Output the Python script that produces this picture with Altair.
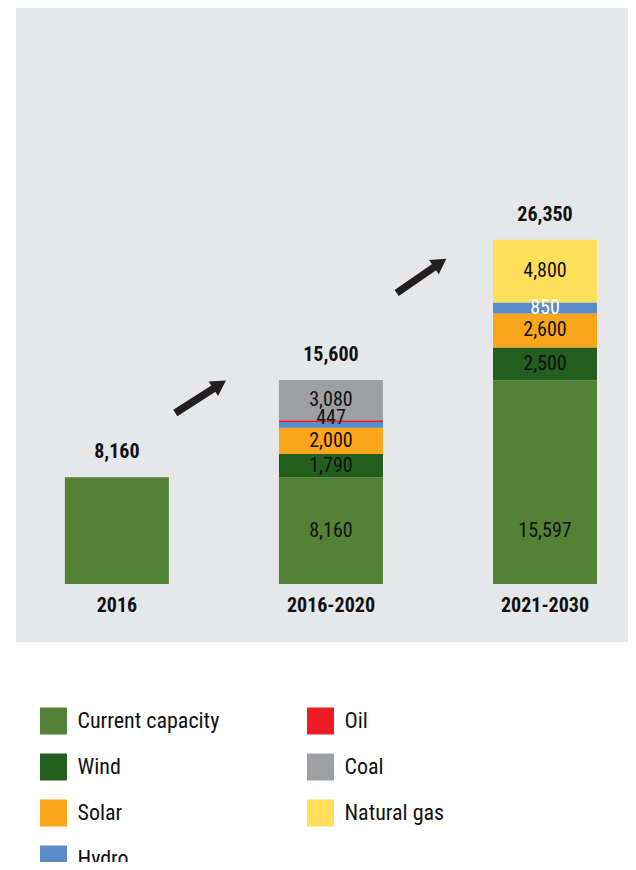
import altair as alt
import pandas as pd

# ---------------- data ----------------
categories = ["2016", "2016-2020", "2021-2030"]
positions = [0, 1, 2]
sources = ["Current capacity", "Wind", "Solar", "Hydro", "Oil", "Coal", "Natural gas"]
colors = ["#538135", "#245e1f", "#f9a61b", "#5b8bc8", "#ed1c24", "#9d9fa2", "#ffde59"]
values_2016 = [8160, 0, 0, 0, 0, 0, 0]
values_2016_2020 = [8160, 1790, 2000, 447, 123, 3080, 0]
values_2021_2030 = [15597, 2500, 2600, 850, 0, 0, 4800]
labels_2016 = ["", "", "", "", "", "", ""]
labels_2016_2020 = ["8,160", "1,790", "2,000", "447", "", "3,080", ""]
labels_2021_2030 = ["15,597", "2,500", "2,600", "850", "", "", "4,800"]
totals = [8160, 15600, 26350]
total_labels = ["8,160", "15,600", "26,350"]

# growth arrows (from -> to, in chart data units)
arrow_from_pos = [0.273, 1.307]
arrow_from_val = [13083, 22264]
arrow_to_pos = [0.480, 1.510]
arrow_to_val = [15249, 24560]
arrow_angle = [57, 56]

# legend grid
legend_col = [0, 0, 0, 0, 1, 1, 1]
legend_row = [0, 1, 2, 3, 0, 1, 2]

FONT = "Roboto Condensed, Liberation Sans Narrow, Arial Narrow, DejaVu Sans Condensed, sans-serif"
BG = "#e6e7e8"

# ---------------- tables ----------------
base_capacity = values_2016[0]
rows = []
for cat, pos, vals, labs in zip(categories, positions,
                                [values_2016, values_2016_2020, values_2021_2030],
                                [labels_2016, labels_2016_2020, labels_2021_2030]):
    base = 0
    for i, (s, v, l) in enumerate(zip(sources, vals, labs)):
        if v == 0:
            continue
        mid = base + v / 2
        # existing-capacity labels sit level with the middle of the 2016 capacity
        anchor = base_capacity / 2 if s == "Current capacity" else mid
        rows.append(dict(category=cat, pos=pos, source=s, order=i,
                         start=base, end=base + v, mid=anchor, label=l))
        base += v
seg = pd.DataFrame(rows)

tot = pd.DataFrame(dict(category=categories, pos=positions, total=totals,
                        total_label=total_labels, zero=[0, 0, 0]))
arr = pd.DataFrame(dict(x1=arrow_from_pos, y1=arrow_from_val,
                        x2=arrow_to_pos, y2=arrow_to_val, angle=arrow_angle))
leg = pd.DataFrame(dict(source=sources, col=legend_col, row=legend_row))

xs = alt.Scale(domain=[-0.4481, 2.3644], zero=False, nice=False)
ys = alt.Scale(domain=[-4438, 44070], zero=False, nice=False)
cs = alt.Scale(domain=sources, range=colors)

X = alt.X("pos:Q", scale=xs, axis=None)

bars = alt.Chart(seg).mark_bar(size=104).encode(
    x=X,
    y=alt.Y("start:Q", scale=ys, axis=None),
    y2="end:Q",
    color=alt.Color("source:N", scale=cs, legend=None),
)

lab_main = alt.Chart(seg).mark_text(font=FONT, fontSize=20, color="#111111", baseline="middle").encode(
    x=X, y=alt.Y("mid:Q", scale=ys, axis=None), text="label:N"
).transform_filter("datum.label != '' && datum.source != 'Hydro'")

lab_h1 = alt.Chart(seg).mark_text(font=FONT, fontSize=20, color="#111111", baseline="middle", dy=-7).encode(
    x=X, y=alt.Y("mid:Q", scale=ys, axis=None), text="label:N"
).transform_filter("datum.source == 'Hydro' && datum.category == '2016-2020'")

lab_h2 = alt.Chart(seg).mark_text(font=FONT, fontSize=20, color="#ffffff", baseline="middle").encode(
    x=X, y=alt.Y("mid:Q", scale=ys, axis=None), text="label:N"
).transform_filter("datum.source == 'Hydro' && datum.category == '2021-2030'")

tot_text = alt.Chart(tot).mark_text(font=FONT, fontSize=20, fontWeight="bold", color="#111111",
                                    baseline="middle", dy=-25).encode(
    x=X, y=alt.Y("total:Q", scale=ys, axis=None), text="total_label:N"
)

cat_text = alt.Chart(tot).mark_text(font=FONT, fontSize=20, fontWeight="bold", color="#111111",
                                    baseline="middle", dy=22).encode(
    x=X, y=alt.Y("zero:Q", scale=ys, axis=None), text="category:N"
)

shafts = alt.Chart(arr).mark_rule(color="#231f20", strokeWidth=7.5, strokeCap="butt").encode(
    x=alt.X("x1:Q", scale=xs, axis=None), y=alt.Y("y1:Q", scale=ys, axis=None),
    x2="x2:Q", y2="y2:Q"
)
heads = alt.Chart(arr).mark_point(shape="triangle-up", filled=True, size=300, color="#231f20",
                                  opacity=1).encode(
    x=alt.X("x2:Q", scale=xs, axis=None), y=alt.Y("y2:Q", scale=ys, axis=None),
    angle=alt.Angle("angle:Q", scale=None)
)

main = alt.layer(bars, lab_main, lab_h1, lab_h2, tot_text, cat_text, shafts, heads).properties(
    width=612, height=634, view=alt.ViewBackground(fill=BG, strokeWidth=0)
)

lxs = alt.Scale(domain=[-0.1404, 2.1517], zero=False, nice=False)
lys = alt.Scale(domain=[-1.717, 3.065], zero=False, nice=False, reverse=True)

leg_sq = alt.Chart(leg).mark_square(size=729, opacity=1, clip=True).encode(
    x=alt.X("col:Q", scale=lxs, axis=None),
    y=alt.Y("row:Q", scale=lys, axis=None),
    color=alt.Color("source:N", scale=cs, legend=None),
)
leg_tx = alt.Chart(leg).mark_text(font=FONT, fontSize=22, color="#111111", align="left",
                                  baseline="middle", dx=24, clip=True).encode(
    x=alt.X("col:Q", scale=lxs, axis=None),
    y=alt.Y("row:Q", scale=lys, axis=None),
    text="source:N",
)
legend = alt.layer(leg_sq, leg_tx).properties(
    width=612, height=220, view=alt.ViewBackground(fill="white", strokeWidth=0)
)

chart = alt.vconcat(main, legend, spacing=0).properties(
    padding={"left": 8, "top": 0, "right": 0, "bottom": 0},
    background="white",
).configure_view(strokeWidth=0)

chart.save("out.html", embed_options={"renderer": "svg", "actions": False})
